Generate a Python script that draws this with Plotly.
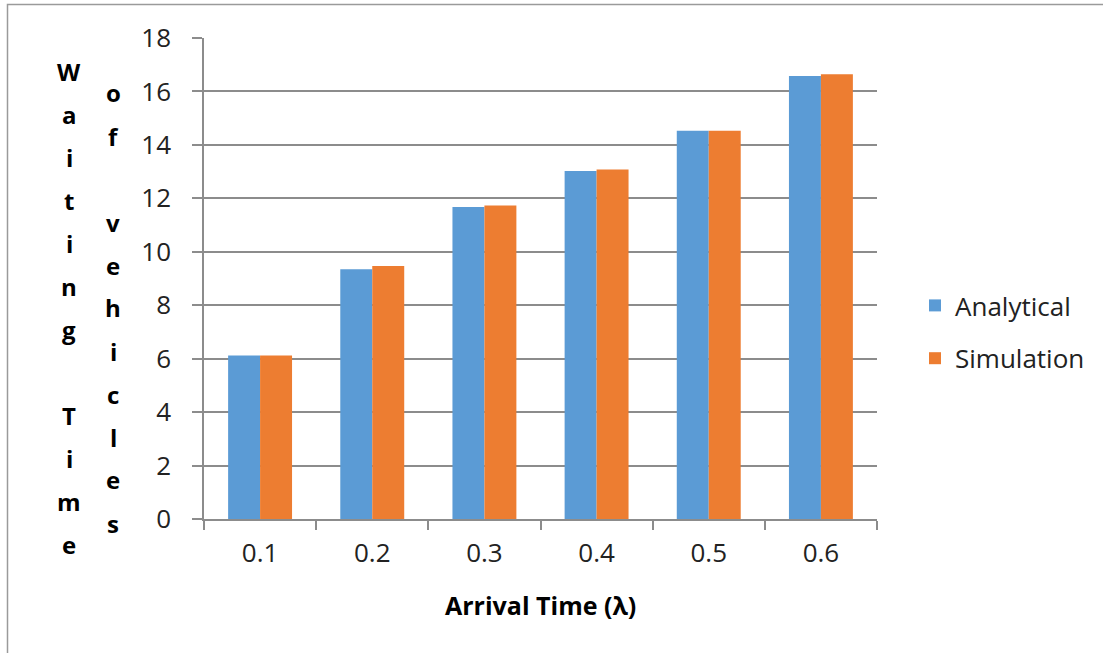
import plotly.graph_objects as go

categories = ["0.1", "0.2", "0.3", "0.4", "0.5", "0.6"]
analytical = [6.12, 9.35, 11.68, 13.02, 14.53, 16.58]
simulation = [6.12, 9.47, 11.73, 13.08, 14.53, 16.64]
y_ticks = [0, 2, 4, 6, 8, 10, 12, 14, 16, 18]
y_title_cols = ["Waiting Time", "of vehicles"]
x_title = "Arrival Time (λ)"

W, H = 1103, 653
L, R, T, B = 204, 877, 38, 519  # plot area pixel bounds
pw, ph = R - L, B - T

def px2x(px):
    return (px - L) / pw

def py2y(py):
    return (B - py) / ph

FONT = "Open Sans"
GRID = "#8c8c8c"

fig = go.Figure()
fig.add_trace(go.Bar(x=categories, y=analytical, name="Analytical",
                     marker=dict(color="#5B9BD5", line=dict(width=0)),
                     legendgroup="a"))
fig.add_trace(go.Bar(x=categories, y=simulation, name="Simulation",
                     marker=dict(color="#ED7D31", line=dict(width=0)),
                     legendgroup="b"))

annotations = []
col_x = [69, 113]
spacing = 43
center_y = 308
for col, text in zip(col_x, y_title_cols):
    n = len(text)
    for i, ch in enumerate(text):
        if ch == " ":
            continue
        ypx = center_y + (i - (n - 1) / 2) * spacing
        annotations.append(dict(
            text=ch, x=px2x(col), y=py2y(ypx), xref="paper", yref="paper",
            showarrow=False, xanchor="center", yanchor="middle",
            font=dict(family=FONT, size=24, color="#000000", weight="bold")))

annotations.append(dict(
    text=f"<b>{x_title}</b>", x=px2x(540), y=py2y(605), xref="paper", yref="paper",
    showarrow=False, xanchor="center", yanchor="middle",
    font=dict(family=FONT, size=25, color="#000000")))

shapes = [dict(type="rect", xref="paper", yref="paper",
               x0=px2x(7.5), x1=px2x(1300), y0=py2y(900), y1=py2y(4.5),
               line=dict(color="#9a9a9a", width=1.5), fillcolor="rgba(0,0,0,0)",
               layer="below")]

fig.update_layout(
    width=W, height=H,
    margin=dict(l=L, r=W - R, t=T, b=H - B),
    paper_bgcolor="white", plot_bgcolor="white",
    barmode="group", bargap=0.43, bargroupgap=0,
    font=dict(family=FONT, color="#222222"),
    showlegend=True,
    legend=dict(x=px2x(915), y=py2y(332), xanchor="left", yanchor="middle",
                xref="paper", yref="paper",
                font=dict(family=FONT, size=26, color="#222222"),
                traceorder="grouped", tracegroupgap=16,
                bgcolor="rgba(0,0,0,0)"),
    annotations=annotations,
    shapes=shapes,
    xaxis=dict(type="category", showline=True, linecolor=GRID, linewidth=1.5,
               ticks="outside", tickson="boundaries", ticklen=9,
               tickcolor=GRID, tickwidth=1.5, showgrid=False,
               tickfont=dict(family=FONT, size=26, color="#222222"),
               ticklabelstandoff=10),
    yaxis=dict(range=[0, 18], tickvals=y_ticks, showline=True, linecolor=GRID,
               linewidth=1.5, ticks="outside", ticklen=10, tickcolor=GRID,
               tickwidth=1.5, showgrid=True, gridcolor=GRID, gridwidth=1.5,
               zeroline=False,
               tickfont=dict(family=FONT, size=26, color="#222222"),
               ticklabelstandoff=16),
)

fig.write_html("out.html")
